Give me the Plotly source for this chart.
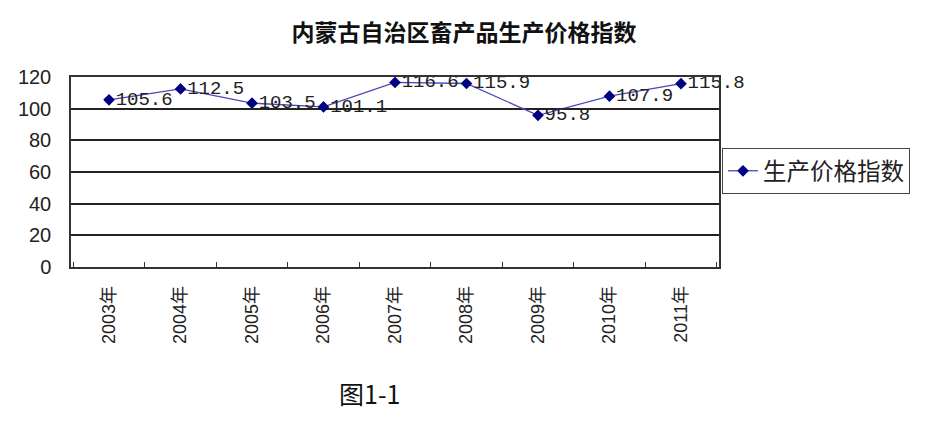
import plotly.graph_objects as go

years = ["2003年", "2004年", "2005年", "2006年", "2007年", "2008年", "2009年", "2010年", "2011年"]
index_values = [105.6, 112.5, 103.5, 101.1, 116.6, 115.9, 95.8, 107.9, 115.8]
series_name = "生产价格指数"
title_text = "内蒙古自治区畜产品生产价格指数"
caption_text = "图1-1"
y_ticks = [0, 20, 40, 60, 80, 100, 120]

# page body has an 8px margin, so the figure is drawn offset by 8px
OFF = 8
W, H = 933, 445
L, T, PW, PH = 71 - OFF, 77 - OFF, 648, 190

fig = go.Figure()
fig.add_trace(go.Scatter(
    x=years, y=index_values, name=series_name,
    mode="lines+markers+text",
    line=dict(color="#4a4ab8", width=1.3),
    marker=dict(symbol="diamond", size=9, color="#000080"),
    text=[f"{v:.1f}" for v in index_values],
    textposition="middle right",
    textfont=dict(family="Liberation Mono", size=19, color="#222222"),
    cliponaxis=False,
))

fig.update_layout(
    width=W, height=H,
    margin=dict(l=L, r=W - L - PW, t=T, b=H - T - PH, autoexpand=False),
    paper_bgcolor="white", plot_bgcolor="white",
    title=dict(text=f"<b>{title_text}</b>", x=(464 - OFF) / W, xanchor="center",
               y=1 - (33 - OFF) / H, yanchor="middle",
               font=dict(family="Noto Sans CJK SC", size=23, color="#111111")),
    showlegend=True,
    legend=dict(x=(722 - 71) / PW, y=(267 - 171) / PH, xanchor="left", yanchor="middle",
                bordercolor="#444444", borderwidth=1,
                font=dict(family="Noto Sans CJK SC", size=23.5, color="#222222"),
                itemwidth=30, tracegroupgap=0),
    font=dict(family="Liberation Sans", color="#222222"),
)

fig.update_xaxes(
    type="category", tickangle=-90,
    tickfont=dict(family="Liberation Sans, Noto Sans CJK SC", size=18, color="#222222"),
    showline=True, linecolor="#333333", linewidth=1.5, mirror=True,
    ticks="inside", ticklen=5, tickcolor="#333333", tickson="boundaries",
    ticklabelstandoff=10,
    showgrid=False, automargin=False,
)
fig.update_yaxes(
    range=[0, 120], tickvals=y_ticks,
    tickfont=dict(family="Liberation Sans", size=20, color="#222222"),
    showline=True, linecolor="#333333", linewidth=1.5, mirror=True,
    showgrid=True, gridcolor="#222222", gridwidth=1.5,
    ticks="", ticklabelstandoff=14, zeroline=False, automargin=False,
)

fig.add_annotation(text=caption_text, xref="paper", yref="paper",
                   x=(369 - 71) / PW, y=(267 - 413) / PH, showarrow=False,
                   font=dict(family="Noto Sans CJK SC", size=25, color="#111111"))

fig.write_html("out.html")
